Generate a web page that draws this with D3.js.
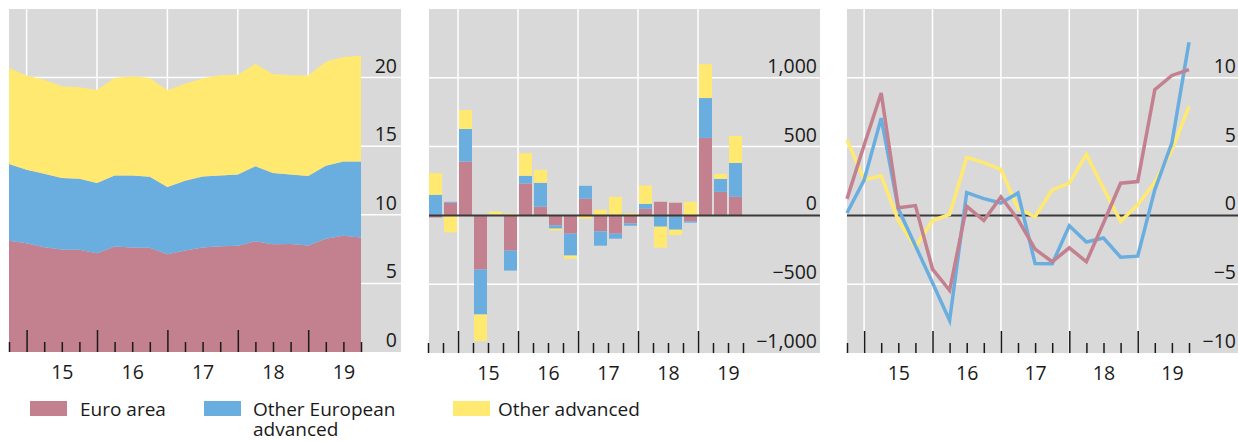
<!DOCTYPE html>
<html><head><meta charset="utf-8">
<script src="https://cdn.jsdelivr.net/npm/d3@7"></script>
<style>
body{margin:0;background:#fff}
svg{display:block}
text{font-family:"Open Sans","Noto Sans",sans-serif;fill:#1a1a1a}
</style>
</head><body>
<svg id="chart" width="1238" height="441"></svg>
<script>
// ---------- DATA ----------
const quarters = ["2014Q3","2014Q4","2015Q1","2015Q2","2015Q3","2015Q4","2016Q1","2016Q2","2016Q3","2016Q4",
  "2017Q1","2017Q2","2017Q3","2017Q4","2018Q1","2018Q2","2018Q3","2018Q4","2019Q1","2019Q2","2019Q3"];
const seriesNames = ["Euro area", "Other European advanced", "Other advanced"];

// Panel 1: stocks
const euroStock      = [8.1, 7.93, 7.64, 7.47, 7.45, 7.2, 7.69, 7.62, 7.6, 7.13, 7.4, 7.62, 7.71, 7.74, 8.08, 7.86, 7.88, 7.76, 8.25, 8.47, 8.34];
const otherEuroStock = [5.6, 5.35, 5.35, 5.21, 5.18, 5.11, 5.18, 5.25, 5.17, 4.89, 5.08, 5.18, 5.16, 5.2, 5.45, 5.18, 5.06, 5.06, 5.33, 5.42, 5.55];
const otherAdvStock  = [7.0, 6.87, 6.86, 6.69, 6.67, 6.79, 7.1, 7.23, 7.2, 7.05, 7.08, 7.13, 7.3, 7.26, 7.47, 7.23, 7.23, 7.33, 7.57, 7.61, 7.71];

// Panel 2: flows
const euroFlow      = [-15, 92, 391, -394, 0, -256, 232, 63, -72, -133, 121, -116, -133, -58, 48, 99, 92, -43, 563, 171, 135];
const otherEuroFlow = [150, 7, 237, -326, 0, -145, 56, 174, -24, -159, 94, -104, -36, -17, 36, -82, -104, -10, 290, 94, 246];
const otherAdvFlow  = [157, -123, 138, -193, 27, 12, 164, 94, -14, -22, -24, 41, 135, 14, 133, -152, -39, 99, 246, 36, 196];

// Panel 3: growth
const euroGrowth      = [1.2, 5.1, 8.9, 0.56, 0.71, -3.9, -5.44, 0.66, -0.37, 1.34, -0.3, -2.45, -3.37, -2.36, -3.37, -0.55, 2.34, 2.46, 9.13, 10.17, 10.6];
const otherEuroGrowth = [0.17, 2.56, 7.07, 0.49, -2.2, -4.9, -7.63, 1.66, 1.22, 0.9, 1.63, -3.5, -3.52, -0.75, -1.93, -1.64, -3.04, -2.96, 1.86, 5.28, 12.58];
const otherAdvGrowth  = [5.49, 2.6, 2.88, -0.37, -2.3, -0.37, 0.07, 4.22, 3.83, 3.34, 0.5, -0.1, 1.86, 2.34, 4.43, 1.95, -0.43, 0.77, 2.41, 4.75, 7.93];

const years = [2015, 2016, 2017, 2018, 2019];
const yearLabels = ["15", "16", "17", "18", "19"];
const yTicks1 = [0, 5, 10, 15, 20];
const yTicks2 = [-1000, -500, 0, 500, 1000];
const yTicks3 = [-10, -5, 0, 5, 10];

// ---------- STYLE ----------
const colors = ["#c3808f", "#6aaee0", "#ffe970"];
const bgCol = "#d9d9d9";
const FS = 19.5;

const qStart = q => +q.slice(0,4) + (+q.slice(5) - 1) / 4;
const qEnd = q => +q.slice(0,4) + (+q.slice(5)) / 4;

const svg = d3.select("#chart");

function panel(cfg) {
  const g = svg.append("g");
  const x = d3.scaleLinear().domain(cfg.xDom).range(cfg.xRange);
  const y = d3.scaleLinear().domain(cfg.yDom).range([cfg.bottom, cfg.top]);
  g.append("rect").attr("x", cfg.bgL).attr("y", cfg.top).attr("width", cfg.bgR - cfg.bgL)
    .attr("height", cfg.bottom - cfg.top).attr("fill", bgCol);
  g.selectAll(".hg").data(cfg.yTicks.filter(v => v !== cfg.yDom[0] && v !== 0)).join("line")
    .attr("x1", cfg.bgL).attr("x2", cfg.bgR).attr("y1", d => y(d)).attr("y2", d => y(d))
    .attr("stroke", "#fff").attr("stroke-width", 1.5);
  g.selectAll(".vg").data(years).join("line")
    .attr("x1", d => x(d)).attr("x2", d => x(d)).attr("y1", cfg.top).attr("y2", cfg.bottom)
    .attr("stroke", "#fff").attr("stroke-width", 1.5);
  return {g, x, y};
}

function ticksAndLabels(p, cfg) {
  const {g, x, y} = p;
  const minor = [];
  for (let v = cfg.xDom[0]; v <= cfg.xDom[1] + 1e-9; v += 0.25) if (Math.abs(v - Math.round(v)) > 1e-6) minor.push(v);
  const axMinor = d3.axisBottom(x).tickValues(minor).tickSize(-10).tickFormat("");
  const axMajor = d3.axisBottom(x).tickValues(years).tickSize(-22).tickFormat("");
  [axMinor, axMajor].forEach(ax => {
    const a = g.append("g").attr("transform", `translate(0,${cfg.bottom})`).call(ax);
    a.select(".domain").remove();
    a.selectAll("line").attr("stroke", "#1a1a1a").attr("stroke-width", 1.5);
  });
  const axLab = d3.axisBottom(x).tickValues(years.map(v => v + 0.5)).tickSize(0)
    .tickFormat((d, i) => yearLabels[i]);
  const al = g.append("g").attr("transform", `translate(0,${cfg.bottom})`).call(axLab);
  al.select(".domain").remove();
  al.selectAll("text").attr("font-size", FS).attr("font-family", '"Open Sans",sans-serif')
    .attr("fill", "#1a1a1a").attr("dy", null).attr("y", 27);
  g.selectAll(".yl").data(cfg.yTicks).join("text")
    .attr("x", cfg.labelX).attr("y", d => y(d) - 5).attr("text-anchor", "end")
    .attr("font-size", FS).text(d => cfg.fmt(d));
}

// ---------- PANEL 1 ----------
{
  const cfg = {xDom:[2014.75, 2019.75], xRange:[9, 361], yDom:[0, 25], top:9, bottom:352, bgL:9, bgR:401,
    yTicks:yTicks1, labelX:397, fmt:d3.format("d")};
  const p = panel(cfg);
  const rows = quarters.map((q, i) => ({q, a: euroStock[i], b: otherEuroStock[i], c: otherAdvStock[i]}));
  const stack = d3.stack().keys(["a","b","c"])(rows);
  const area = d3.area().x(d => p.x(qEnd(d.data.q))).y0(d => p.y(d[0])).y1(d => p.y(d[1]));
  p.g.selectAll(".ar").data(stack).join("path").attr("d", area).attr("fill", (d, i) => colors[i]);
  ticksAndLabels(p, cfg);
}

// ---------- PANEL 2 ----------
{
  const fmt = d => (d < 0 ? "\u2212" : "") + d3.format(",")(Math.abs(d));
  const cfg = {xDom:[2014.5, 2019.75], xRange:[428, 743], yDom:[-1000, 1500], top:9, bottom:353, bgL:429, bgR:820,
    yTicks:yTicks2, labelX:817, fmt};
  const p = panel(cfg);
  const rows = quarters.map((q, i) => ({q, a: euroFlow[i], b: otherEuroFlow[i], c: otherAdvFlow[i]}));
  const stack = d3.stack().keys(["a","b","c"]).offset(d3.stackOffsetDiverging)(rows);
  stack.forEach((s, si) => {
    p.g.append("g").selectAll("rect").data(s).join("rect")
      .attr("x", d => p.x(qStart(d.data.q)) + 1)
      .attr("width", d => p.x(qEnd(d.data.q)) - p.x(qStart(d.data.q)) - 2)
      .attr("y", d => p.y(Math.max(d[0], d[1])))
      .attr("height", d => Math.abs(p.y(d[0]) - p.y(d[1])))
      .attr("fill", colors[si]);
  });
  p.g.append("line").attr("x1", cfg.bgL).attr("x2", cfg.bgR).attr("y1", p.y(0)).attr("y2", p.y(0))
    .attr("stroke", "#3a3a3a").attr("stroke-width", 2);
  ticksAndLabels(p, cfg);
}

// ---------- PANEL 3 ----------
{
  const fmt = d => (d < 0 ? "\u2212" : "") + Math.abs(d);
  const cfg = {xDom:[2014.75, 2019.75], xRange:[847, 1189], yDom:[-10, 15], top:9, bottom:353, bgL:847, bgR:1238,
    yTicks:yTicks3, labelX:1236, fmt};
  const p = panel(cfg);
  p.g.append("line").attr("x1", cfg.bgL).attr("x2", cfg.bgR).attr("y1", p.y(0)).attr("y2", p.y(0))
    .attr("stroke", "#3a3a3a").attr("stroke-width", 2);
  const series = [otherAdvGrowth, otherEuroGrowth, euroGrowth];
  const cols = [colors[2], colors[1], colors[0]];
  const line = d3.line().x((d, i) => p.x(qEnd(quarters[i]))).y(d => p.y(d));
  series.forEach((s, i) => {
    p.g.append("path").attr("d", line(s)).attr("fill", "none").attr("stroke", cols[i])
      .attr("stroke-width", 3.5).attr("stroke-linejoin", "miter");
  });
  ticksAndLabels(p, cfg);
}

// ---------- LEGEND ----------
const legend = [
  {x: 30, tx: 80, lines: ["Euro area"]},
  {x: 204, tx: 253, lines: ["Other European", "advanced"]},
  {x: 453, tx: 498, lines: ["Other advanced"]}
];
legend.forEach((l, i) => {
  svg.append("rect").attr("x", l.x).attr("y", 401).attr("width", 37).attr("height", 15).attr("fill", colors[i]);
  l.lines.forEach((s, j) => {
    svg.append("text").attr("x", l.tx).attr("y", 416 + j * 19.5).attr("font-size", 19).text(s);
  });
});
</script>
</body></html>
